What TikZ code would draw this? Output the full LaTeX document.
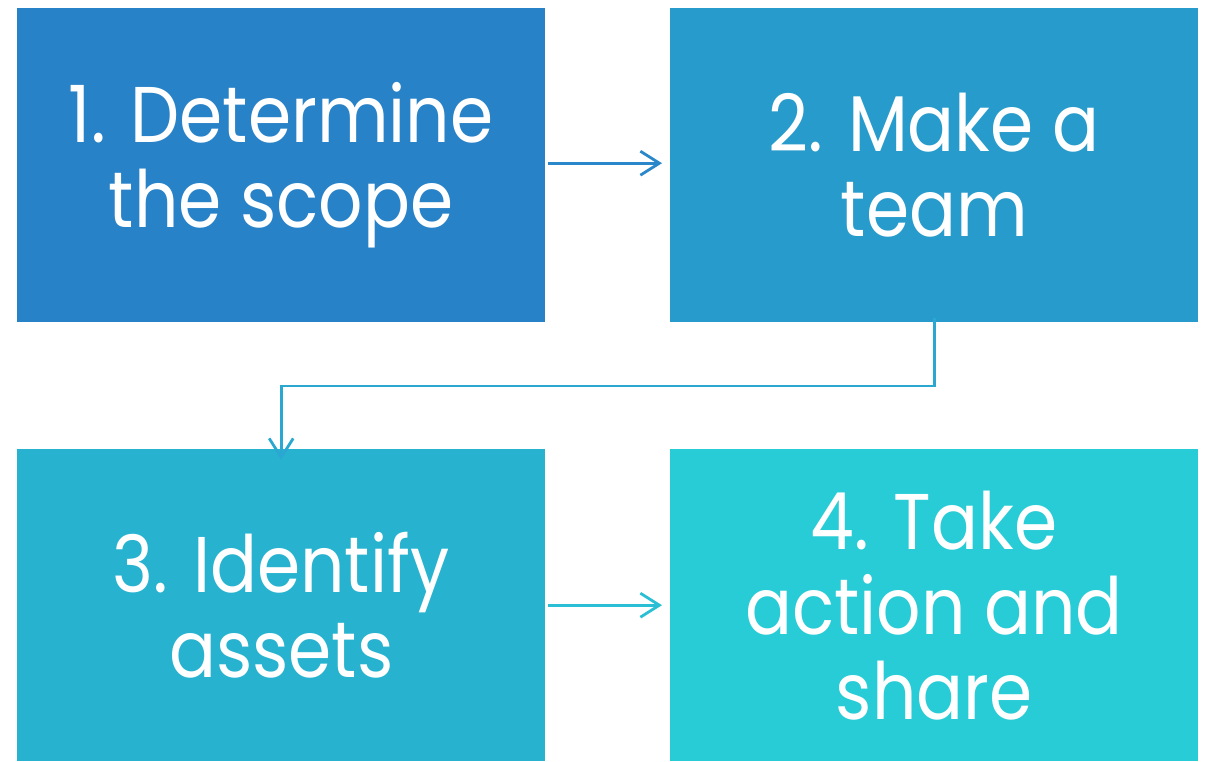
\documentclass[tikz,border=0pt]{standalone}
\usepackage{fontspec}
\setmainfont[FakeStretch=0.88]{Poppins}
\usetikzlibrary{arrows.meta}
\definecolor{cA}{HTML}{2882C8}
\definecolor{cB}{HTML}{279BCB}
\definecolor{cC}{HTML}{27B3CF}
\definecolor{cD}{HTML}{27CCD6}
\definecolor{aA}{HTML}{2A88CA}
\definecolor{aB}{HTML}{2AA8D2}
\definecolor{aC}{HTML}{2ABFD4}
\tikzset{
  stepbox/.style={draw=none, inner sep=0pt, minimum width=528pt, anchor=north west,
    text=white, align=center, font=\fontsize{79}{85}\selectfont},
  flow/.style={line width=2.8pt, -{Straight Barb[length=19pt,width=24pt,line width=2.8pt]}}
}
\begin{document}
\begin{tikzpicture}[x=1pt,y=-1pt]
\useasboundingbox (0,0) rectangle (1205,761);
\node[stepbox, fill=cA, minimum height=314pt] (b1) at (17,8) {1. Determine\\the scope};
\node[stepbox, fill=cB, minimum height=314pt] (b2) at (670,8) {2. Make a\\team};
\node[stepbox, fill=cC, minimum height=312pt] (b3) at (17,449) {3. Identify\\assets};
\node[stepbox, fill=cD, minimum height=312pt] (b4) at (670,449) {4. Take\\action and\\share};
\coordinate (m) at (600,386);
\draw[flow, aA] ([xshift=3pt,yshift=2pt]b1.east) -- ([xshift=-8pt,yshift=2pt]b2.west);
\draw[flow, aB, -] ([yshift=4pt]b2.south) |- (m);
\draw[flow, aB] (m) -| ([yshift=-11pt]b3.north);
\draw[flow, aC] ([xshift=3pt]b3.east) -- ([xshift=-8pt]b4.west);
\end{tikzpicture}
\end{document}
